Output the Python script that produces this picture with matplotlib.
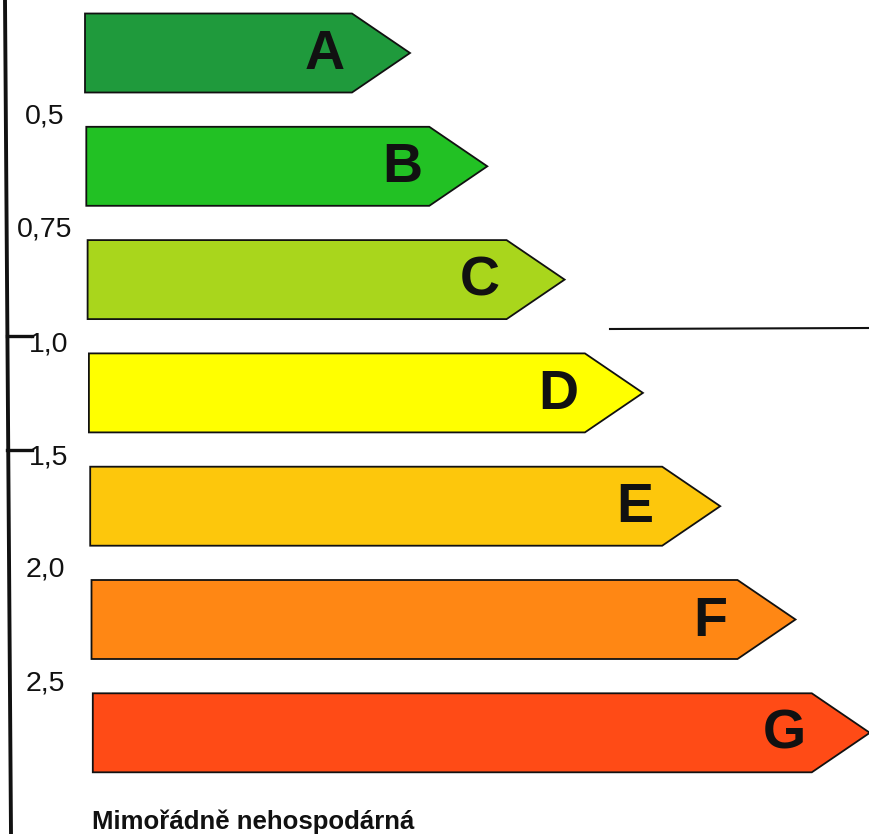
import matplotlib.pyplot as plt
from matplotlib.patches import Polygon

plt.rcParams['font.family'] = ['Liberation Sans', 'DejaVu Sans']

# energy classes, top (best) to bottom (worst)
classes = ['A', 'B', 'C', 'D', 'E', 'F', 'G']
colors = ['#1f9a3c', '#22c124', '#a9d61c', '#ffff00', '#fdc70c', '#ff8714', '#ff4b16']
# length of each arrow (left edge to tip), in pixel-like units
lengths = [325, 401, 477, 554, 630, 704, 777]
# class boundaries on the left scale
tick_labels = ['0,5', '0,75', '1,0', '1,5', '2,0', '2,5']
tick_marked = [False, False, True, True, False, False]
footer = 'Mimořádně nehospodárná'

W, H = 869, 834
fig = plt.figure(figsize=(W / 100, H / 100), dpi=100)
ax = fig.add_axes([0, 0, 1, 1])
ax.set_xlim(0, W)
ax.set_ylim(H, 0)
ax.axis('off')

row_step = 113.3
row_top0 = 53
bar_h = 79
tip_len = 58

centers = []
for i, (cls, col, L) in enumerate(zip(classes, colors, lengths)):
    yc = row_top0 + i * row_step
    centers.append(yc)
    x0 = 85 + i * 1.3
    tip = x0 + L
    end = tip - tip_len
    pts = [(x0, yc - bar_h / 2), (end, yc - bar_h / 2), (tip, yc),
           (end, yc + bar_h / 2), (x0, yc + bar_h / 2)]
    ax.add_patch(Polygon(pts, closed=True, facecolor=col, edgecolor='#111111', lw=1.3))
    ax.text(end - 27, yc + 2, cls, fontsize=40, fontweight='bold',
            ha='center', va='center', color='#111111')

# left scale line
ax.plot([5, 11], [0, H], color='#111111', lw=2.8, solid_capstyle='butt')

for i, (lab, marked) in enumerate(zip(tick_labels, tick_marked)):
    ym = (centers[i] + centers[i + 1]) / 2
    if marked:
        ax.plot([7, 32], [ym, ym], color='#111111', lw=2.4)
        ax.text(29, ym + 8, lab, fontsize=20.5, ha='left', va='center', color='#111111')
    else:
        ax.text(45, ym + 7, lab, fontsize=20.5, ha='center', va='center', color='#111111')

# reference line at the C/D boundary
ax.plot([610, W], [329, 328], color='#111111', lw=1.5)

ax.text(92, 822, footer, fontsize=18.5, fontweight='bold', ha='left', va='center',
        color='#111111')

fig.savefig('out.png', dpi=100, facecolor='white')
